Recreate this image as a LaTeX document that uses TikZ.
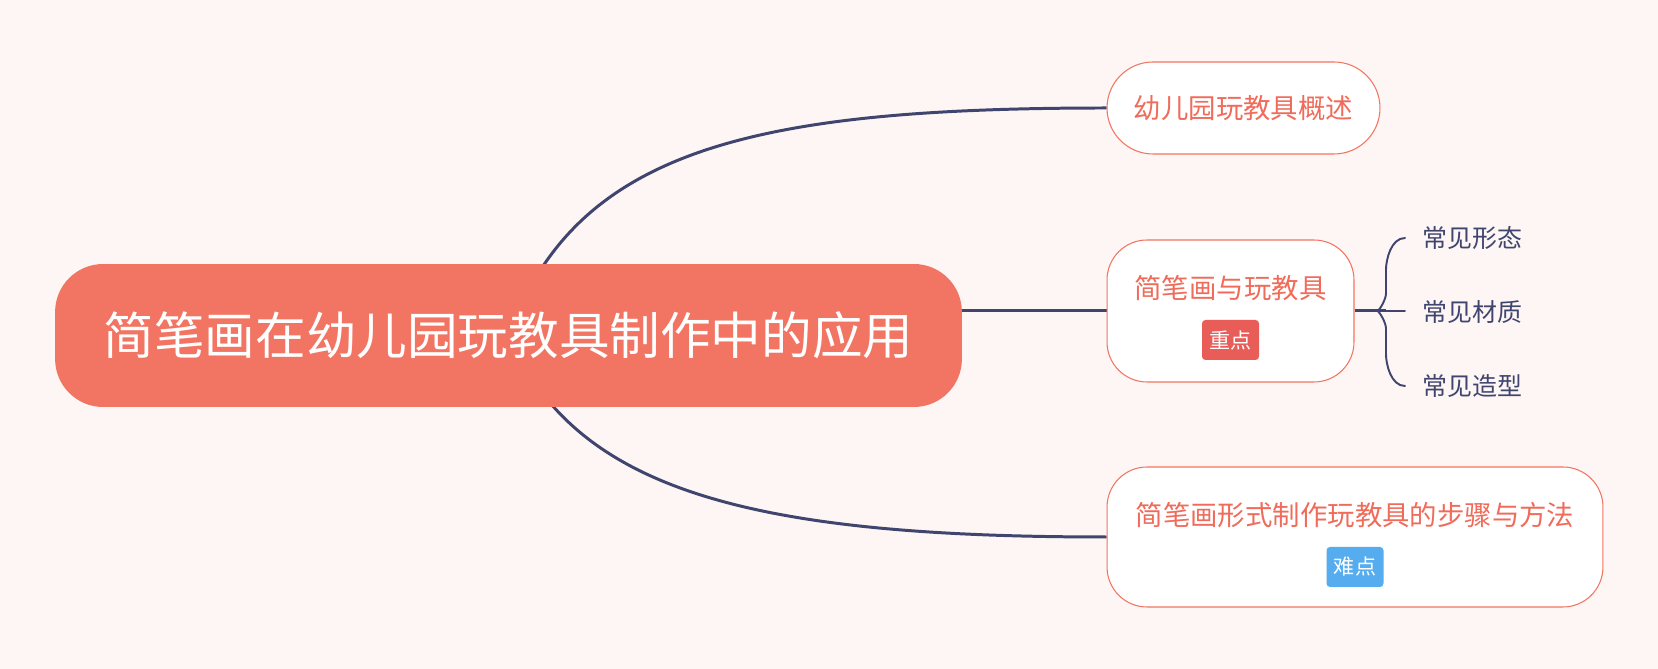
\documentclass[tikz,border=0pt]{standalone}
\usepackage{fontspec}
\setmainfont{Noto Sans CJK SC}
\usepackage{xcolor}
\usetikzlibrary{positioning}

\definecolor{paper}{HTML}{FEF6F4}
\definecolor{coral}{HTML}{F27462}
\definecolor{coraltext}{HTML}{F06B5A}
\definecolor{navy}{HTML}{3F456F}
\definecolor{tagred}{HTML}{E85D58}
\definecolor{tagblue}{HTML}{55ACEE}

\pgfdeclarelayer{bg}
\pgfdeclarelayer{lines}
\pgfsetlayers{bg,lines,main}

\begin{document}
\begin{tikzpicture}[
    x=0.02cm, y=0.02cm,
    root/.style={rectangle, fill=coral, text=white, minimum width=18.14cm, minimum height=2.86cm, rounded corners=0.96cm, inner sep=0, font=\fontsize{28.8}{34}\selectfont},
    topic/.style={rectangle, draw=coral, line width=0.6pt, fill=white, inner sep=0},
    title/.style={text=coraltext, inner sep=0, font=\fontsize{15.6}{18}\selectfont},
    tag/.style={rectangle, text=white, minimum width=1.14cm, minimum height=0.8cm, inner sep=0, rounded corners=2pt, font=\fontsize{12}{14}\selectfont},
    leaf/.style={anchor=west, inner sep=0, text=navy, font=\fontsize{14.2}{17}\selectfont},
    link/.style={draw=navy, line width=1.7pt},
    bracket/.style={draw=navy, line width=1.1pt, line cap=round}
]
\useasboundingbox (0,0) rectangle (1658,669);
\begin{pgfonlayer}{bg}
  \fill[paper] (0,0) rectangle (1658,669);
\end{pgfonlayer}

% Nodes
\node[root] (root) at (508.5,333.5) {简笔画在幼儿园玩教具制作中的应用};

\node[topic, minimum width=5.46cm, minimum height=1.84cm, rounded corners=0.92cm] (overview) at (1243.5,561) {};
\node[title] at (overview.center) {幼儿园玩教具概述};

\node[topic, minimum width=4.94cm, minimum height=2.84cm, rounded corners=0.8cm] (sketch) at (1230.5,358) {};
\node[title] (sketchtitle) at ([yshift=0.46cm]sketch.center) {简笔画与玩教具};
\node[tag, fill=tagred] (keypoint) at ([yshift=-0.58cm]sketch.center) {重点};

\node[topic, minimum width=9.92cm, minimum height=2.8cm, rounded corners=0.8cm] (steps) at (1355,132) {};
\node[title] (stepstitle) at ([yshift=0.44cm]steps.center) {简笔画形式制作玩教具的步骤与方法};
\node[tag, fill=tagblue] (hardpoint) at ([yshift=-0.6cm]steps.center) {难点};

\node[leaf] (form) at (1422,431) {常见形态};
\node[leaf] (material) at (1422,357) {常见材质};
\node[leaf] (shape) at (1422,283) {常见造型};

% Connectors
\coordinate (bracetip) at (1386,358);
\coordinate (bracemid) at (1405,358);
\begin{pgfonlayer}{lines}
  \draw[link] (root.center) .. controls +(67,185) and +(-357,0) .. (overview.west);
  \draw[link] (root.center |- sketch.west) -- (sketch.west);
  \draw[link] (root.center) .. controls +(67,-155) and +(-357,0) .. (steps.west);
\end{pgfonlayer}
\draw[link] (sketch.east) -- (bracetip);
\draw[bracket] (bracetip) -- (bracemid);
\draw[bracket] (form.west -| bracemid) .. controls +(-14,0) and +(0,10) .. ([yshift=-18]form.west -| bracetip)
  -- ([yshift=10]bracetip) .. controls +(0,-6) and +(2,0) .. ([xshift=-5]bracetip);
\draw[bracket] (shape.west -| bracemid) .. controls +(-14,0) and +(0,-10) .. ([yshift=18]shape.west -| bracetip)
  -- ([yshift=-10]bracetip) .. controls +(0,6) and +(2,0) .. ([xshift=-5]bracetip);

\end{tikzpicture}
\end{document}
